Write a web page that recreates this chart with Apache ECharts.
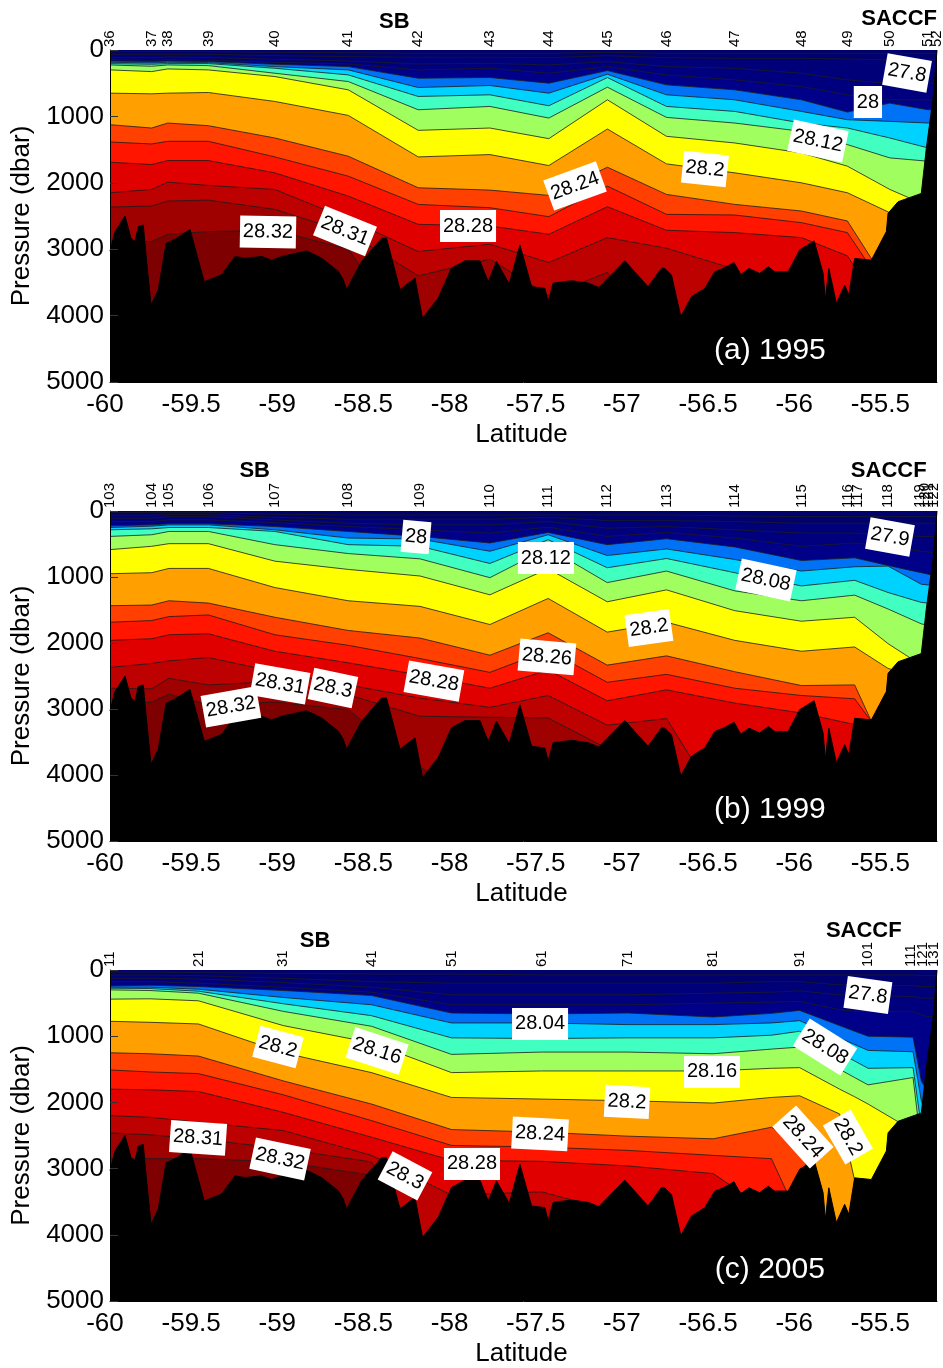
<!DOCTYPE html>
<html>
<head>
<meta charset="utf-8">
<style>
  html, body { margin: 0; padding: 0; background: #fff; }
  #main { width: 943px; height: 1368px; }
</style>
<script src="https://cdn.jsdelivr.net/npm/echarts@6/dist/echarts.min.js"></script>
</head>
<body>
<div id="main"></div>
<script>
// axis ticks
const xTicks = [-60, -59.5, -59, -58.5, -58, -57.5, -57, -56.5, -56, -55.5]
const yTicks = [0, 1000, 2000, 3000, 4000, 5000]

// bottom profile, same for the three sections
const bottomLat = [-60, -59.971, -59.913, -59.878, -59.855, -59.836, -59.807, -59.793, -59.762, -59.72, -59.675, -59.613, -59.536, -59.453, -59.352, -59.275, -59.217, -59.12, -59.062, -59.004, -58.859, -58.772, -58.675, -58.646, -58.627, -58.54, -58.424, -58.395, -58.317, -58.23, -58.186, -58.095, -58.018, -57.94, -57.853, -57.805, -57.757, -57.683, -57.621, -57.553, -57.476, -57.457, -57.428, -57.321, -57.225, -57.163, -57.012, -56.877, -56.799, -56.78, -56.741, -56.687, -56.625, -56.548, -56.49, -56.441, -56.378, -56.339, -56.291, -56.229, -56.18, -56.142, -56.064, -55.997, -55.913, -55.861, -55.848, -55.828, -55.784, -55.736, -55.712, -55.678, -55.581, -55.494, -55.484, -55.426, -55.291, -55.262, -55.223, -55.2]
const bottomP = [3030, 2735, 2500, 2835, 2885, 2660, 2635, 3035, 3840, 3615, 2915, 2835, 2700, 3490, 3385, 3110, 3135, 3110, 3165, 3110, 3025, 3135, 3335, 3460, 3610, 3185, 2835, 2835, 3610, 3435, 4040, 3735, 3285, 3175, 3175, 3490, 3185, 3525, 2935, 3565, 3590, 3790, 3510, 3475, 3510, 3575, 3175, 3565, 3285, 3290, 3390, 4015, 3715, 3590, 3340, 3290, 3200, 3380, 3290, 3365, 3265, 3340, 3340, 3010, 2875, 3365, 3765, 3290, 3815, 3540, 3690, 3140, 3165, 2735, 2460, 2285, 2160, 1480, 730, 0]

// fill below each isopycnal, top to bottom
const layerColors = ['#00006f', '#000078', '#00007f', '#000088', '#0072f5', '#00d2ff', '#40ffc0', '#a0ff5f', '#ffff00', '#ff9f00', '#ff4000', '#ff1500', '#e00000', '#bd0000', '#9f0000', '#7f0000']

// (a) 1995
const aLat = [-60, -59.758, -59.665, -59.429, -59.043, -58.617, -58.211, -57.795, -57.453, -57.113, -56.77, -56.374, -55.987, -55.72, -55.474, -55.252, -55.202]
const aContours = [
  [25, 25, 25, 25, 35, 40, 50, 50, 50, 35, 50, 50, 50, 50, 50, 50, 50],
  [65, 65, 65, 65, 85, 100, 110, 110, 115, 85, 115, 125, 125, 135, 150, 150, 150],
  [115, 115, 105, 115, 140, 165, 210, 200, 225, 175, 250, 275, 350, 450, 500, 500, 500],
  [145, 155, 145, 155, 185, 210, 300, 275, 350, 250, 375, 450, 550, 675, 750, 750, 750],
  [165, 175, 165, 175, 215, 250, 425, 415, 500, 310, 525, 600, 750, 935, 800, 900, 900],
  [185, 195, 185, 190, 250, 300, 565, 535, 650, 365, 675, 750, 925, 1050, 1075, 1100, 1100],
  [205, 215, 205, 205, 275, 375, 700, 675, 840, 415, 850, 925, 1100, 1175, 1325, 1475, 1475],
  [225, 245, 225, 235, 350, 475, 900, 850, 1025, 560, 1015, 1100, 1225, 1425, 1625, 1675, 1675],
  [300, 325, 285, 300, 400, 600, 1210, 1175, 1335, 750, 1300, 1400, 1550, 1750, 2100, 2350, 2350],
  [650, 660, 650, 640, 775, 985, 1610, 1575, 1740, 1190, 1715, 1850, 2000, 2150, 2450, 2625, 2625],
  [1125, 1175, 1100, 1140, 1325, 1600, 2075, 2110, 2190, 1765, 2175, 2325, 2425, 2575, 3575, 3625, 3625],
  [1385, 1415, 1375, 1375, 1610, 1900, 2325, 2375, 2510, 2050, 2475, 2485, 2600, 2750, 3700, 3700, 3700],
  [1690, 1725, 1665, 1665, 1850, 2200, 2625, 2650, 2775, 2360, 2715, 2750, 2825, 3100, 4100, 4100, 4100],
  [2150, 2100, 1990, 2040, 2100, 2550, 3035, 2925, 3200, 2825, 2985, 3300, 4500, 4600, 4600, 4600, 4600],
  [2365, 2350, 2275, 2260, 2400, 2750, 3400, 3150, 3700, 3350, 4500, 4600, 4700, 4700, 4700, 4700, 4700],
  [2875, 2885, 2775, 2735, 2715, 3000, 4500, 4700, 4800, 4800, 4800, 4800, 4800, 4800, 4800, 4800, 4800]
]
const aStations = ['36', '37', '38', '39', '40', '41', '42', '43', '44', '45', '46', '47', '48', '49', '50', '51', '52']
const aStationLat = aLat
const aLabels = ['27.8', '28', '28.12', '28.2', '28.24', '28.28', '28.32', '28.31']
const aLabelLat = [-55.374, -55.601, -55.891, -56.547, -57.301, -57.922, -59.083, -58.636]
const aLabelP = [346, 783, 1370, 1792, 2048, 2651, 2741, 2726]
const aLabelRot = [-10, 0, -12, -6, 20, 0, -1, -22]
const aFronts = ['SB', 'SACCF']
const aFrontLat = [-58.35, -55.42]

// (b) 1999
const bLat = [-60, -59.758, -59.658, -59.429, -59.043, -58.617, -58.201, -57.795, -57.457, -57.114, -56.77, -56.374, -55.987, -55.678, -55.484, -55.291, -55.202]
const bContours = [
  [25, 25, 25, 25, 50, 60, 60, 60, 60, 60, 60, 75, 85, 85, 85, 85, 85],
  [65, 65, 55, 55, 95, 125, 125, 125, 95, 145, 145, 160, 185, 185, 185, 185, 185],
  [110, 110, 85, 85, 135, 185, 210, 210, 160, 260, 235, 285, 335, 335, 360, 385, 385],
  [160, 160, 135, 135, 175, 235, 285, 335, 245, 385, 325, 410, 535, 485, 535, 610, 635],
  [225, 210, 195, 195, 235, 310, 385, 485, 325, 510, 420, 545, 750, 710, 825, 935, 985],
  [250, 230, 210, 210, 285, 410, 425, 610, 360, 675, 575, 735, 910, 845, 835, 1110, 1135],
  [285, 270, 250, 250, 310, 510, 535, 795, 435, 860, 720, 935, 1135, 1050, 1235, 1385, 1410],
  [385, 360, 310, 310, 510, 645, 725, 1010, 560, 1085, 910, 1210, 1360, 1275, 1485, 1710, 1760],
  [585, 535, 495, 495, 760, 885, 985, 1270, 875, 1375, 1195, 1510, 1670, 1610, 2010, 2335, 2335],
  [950, 935, 870, 870, 1160, 1360, 1445, 1720, 1325, 1835, 1685, 1960, 2125, 2060, 2385, 2535, 2535],
  [1435, 1425, 1360, 1395, 1610, 1810, 1925, 2185, 1845, 2335, 2195, 2435, 2645, 2635, 3735, 3800, 3800],
  [1685, 1660, 1600, 1575, 1875, 2035, 2235, 2445, 2110, 2595, 2475, 2685, 2795, 2845, 3535, 3600, 3600],
  [1960, 1935, 1875, 1860, 2125, 2300, 2485, 2685, 2410, 2875, 2710, 2910, 3060, 3235, 4000, 4000, 4000],
  [2370, 2310, 2270, 2220, 2435, 2635, 2835, 2975, 2795, 3245, 3145, 4800, 4800, 4800, 4800, 4800, 4800],
  [2685, 2695, 2535, 2635, 2585, 2785, 3110, 3125, 3135, 3600, 4600, 4800, 4800, 4800, 4800, 4800, 4800],
  [2935, 2895, 2775, 2935, 2895, 3010, 3875, 4600, 4800, 4800, 4800, 4800, 4800, 4800, 4800, 4800, 4800]
]
const bStations = ['103', '104', '105', '106', '107', '108', '109', '110', '111', '112', '113', '114', '115', '116', '117', '118', '119', '120', '121', '122']
const bStationLat = [-60, -59.758, -59.658, -59.429, -59.043, -58.617, -58.201, -57.795, -57.457, -57.114, -56.77, -56.374, -55.987, -55.72, -55.66, -55.484, -55.3, -55.27, -55.25, -55.22]
const bLabels = ['28', '28.12', '27.9', '28.08', '28.2', '28.26', '28.28', '28.3', '28.32', '28.31']
const bLabelLat = [-58.224, -57.47, -55.473, -56.193, -56.872, -57.464, -58.12, -58.706, -59.298, -59.013]
const bLabelP = [394, 712, 394, 1045, 1773, 2212, 2576, 2682, 2969, 2621]
const bLabelRot = [-5, 0, -10, -12, 8, -5, -10, -12, 10, -10]
const bFronts = ['SB', 'SACCF']
const bFrontLat = [-59.16, -55.48]

// (c) 2005
const cLat = [-60, -59.768, -59.487, -58.994, -58.482, -58.018, -57.496, -56.993, -56.499, -56.161, -55.997, -55.765, -55.678, -55.6, -55.339, -55.291, -55.262, -55.202]
const cContours = [
  [30, 30, 40, 50, 60, 60, 75, 75, 75, 75, 75, 75, 75, 75, 75, 85, 85, 85],
  [75, 75, 85, 125, 175, 200, 200, 200, 200, 175, 175, 225, 225, 235, 235, 250, 250, 250],
  [125, 125, 135, 190, 260, 375, 375, 375, 350, 335, 315, 375, 375, 385, 400, 425, 425, 425],
  [175, 175, 200, 260, 335, 525, 525, 525, 500, 485, 475, 600, 625, 625, 625, 675, 700, 700],
  [240, 230, 250, 310, 385, 650, 665, 650, 710, 655, 610, 840, 925, 1000, 1015, 1675, 1800, 1800],
  [260, 260, 290, 415, 525, 800, 800, 825, 825, 800, 765, 1030, 1125, 1215, 1235, 1975, 2200, 2200],
  [275, 280, 320, 510, 690, 1025, 1035, 1025, 1025, 985, 925, 1250, 1375, 1485, 1475, 2375, 2500, 2500],
  [300, 310, 350, 625, 850, 1275, 1240, 1240, 1265, 1195, 1165, 1500, 1625, 1735, 1625, 2675, 2800, 2800],
  [440, 435, 465, 840, 1100, 1550, 1525, 1525, 1525, 1485, 1475, 1800, 1915, 2025, 2425, 3675, 3800, 3800],
  [775, 790, 815, 1250, 1550, 1925, 1950, 1975, 2010, 1925, 1900, 2175, 3175, 3925, 4700, 4700, 4700, 4700],
  [1250, 1265, 1300, 1675, 2025, 2410, 2450, 2510, 2550, 2375, 2625, 4675, 4800, 4800, 4800, 4800, 4800, 4800],
  [1510, 1540, 1565, 1885, 2275, 2650, 2675, 2725, 2800, 2850, 3775, 4800, 4800, 4800, 4800, 4800, 4800, 4800],
  [1800, 1810, 1835, 2150, 2525, 2875, 2890, 2960, 3075, 3675, 4800, 4800, 4800, 4800, 4800, 4800, 4800, 4800],
  [2200, 2225, 2300, 2425, 2800, 3400, 3350, 3700, 4900, 4900, 4900, 4900, 4900, 4900, 4900, 4900, 4900, 4900],
  [2460, 2490, 2550, 2700, 2900, 4800, 4900, 4900, 4900, 4900, 4900, 4900, 4900, 4900, 4900, 4900, 4900, 4900],
  [2850, 2850, 2850, 2900, 3100, 4900, 4900, 4900, 4900, 4900, 4900, 4900, 4900, 4900, 4900, 4900, 4900, 4900]
]
const cStations = ['11', '21', '31', '41', '51', '61', '71', '81', '91', '101', '111', '121', '131']
const cStationLat = [-60, -59.487, -58.994, -58.482, -58.018, -57.496, -56.993, -56.499, -55.997, -55.6, -55.35, -55.28, -55.22]
const cLabels = ['27.8', '28.04', '28.08', '28.16', '28.16', '28.2', '28.2', '28.24', '28.28', '28.3', '28.31', '28.32', '28.24', '28.2']
const cLabelLat = [-55.601, -57.504, -55.85, -56.506, -58.45, -59.025, -56.999, -57.504, -57.899, -58.288, -59.489, -59.013, -55.978, -55.717]
const cLabelP = [378, 815, 1163, 1540, 1223, 1163, 1993, 2476, 2929, 3111, 2537, 2854, 2522, 2522]
const cLabelRot = [-8, 0, -32, 0, -18, -15, -3, -3, 0, -28, -4, -12, -48, -60]
const cFronts = ['SB', 'SACCF']
const cFrontLat = [-58.81, -55.625]

const font = 'Liberation Sans'

// invisible anchor for a text label
const textSeries = (i, label, data, clip) => ({
  type: 'scatter',
  xAxisIndex: i,
  yAxisIndex: i,
  z: 40,
  silent: true,
  clip: clip,
  symbolSize: 1,
  itemStyle: { color: 'transparent', opacity: 1 },
  label: { show: true, position: 'inside', fontFamily: font, ...label },
  data: data
})

// one panel: contour fills, bottom, labels
const panelSeries = (i, p) => {
  const list = []
  p.contours.forEach((row, k) => {
    list.push({
      type: 'line',
      xAxisIndex: i,
      yAxisIndex: i,
      z: 3 + k,
      data: row.map((v, j) => [p.lat[j], v]),
      showSymbol: false,
      silent: true,
      lineStyle: { color: '#1c1c1c', width: 1, opacity: 0.8 },
      areaStyle: { color: layerColors[k], opacity: 1, origin: 'end' }
    })
  })
  list.push({
    type: 'line',
    xAxisIndex: i,
    yAxisIndex: i,
    z: 30,
    data: bottomLat.map((v, j) => [v, bottomP[j]]),
    showSymbol: false,
    silent: true,
    lineStyle: { color: '#000', width: 1 },
    areaStyle: { color: '#000', opacity: 1, origin: 'end' }
  })
  // white contour labels
  list.push(textSeries(i, { color: '#000', fontSize: 20, backgroundColor: '#fff', padding: [7, 3, 5, 3] },
    p.labels.map((t, j) => ({
      value: [p.labelLat[j], p.labelP[j]],
      label: { formatter: t, rotate: p.labelRot[j] }
    })), true))
  // station numbers along the top
  list.push(textSeries(i, { color: '#000', fontSize: 15, align: 'left', verticalAlign: 'middle', rotate: 90 },
    p.stations.map((t, j) => ({
      value: [p.stationLat[j], -45],
      label: { formatter: t }
    })), false))
  // front names
  list.push(textSeries(i, { color: '#000', fontSize: 22, fontWeight: 'bold' },
    p.fronts.map((t, j) => ({
      value: [p.frontLat[j], p.frontP[j]],
      label: { formatter: t }
    })), false))
  // panel tag
  list.push(textSeries(i, { color: '#fff', fontSize: 30 },
    [{ value: [-56.17, 4530], label: { formatter: p.tag } }], true))
  return list
}

const panels = [
  { top: 50, height: 332, tag: '(a) 1995', lat: aLat, contours: aContours, stations: aStations, stationLat: aStationLat,
    labels: aLabels, labelLat: aLabelLat, labelP: aLabelP, labelRot: aLabelRot, fronts: aFronts, frontLat: aFrontLat, frontP: [-430, -465] },
  { top: 511, height: 330, tag: '(b) 1999', lat: bLat, contours: bContours, stations: bStations, stationLat: bStationLat,
    labels: bLabels, labelLat: bLabelLat, labelP: bLabelP, labelRot: bLabelRot, fronts: bFronts, frontLat: bFrontLat, frontP: [-600, -600] },
  { top: 970, height: 331, tag: '(c) 2005', lat: cLat, contours: cContours, stations: cStations, stationLat: cStationLat,
    labels: cLabels, labelLat: cLabelLat, labelP: cLabelP, labelRot: cLabelRot, fronts: cFronts, frontLat: cFrontLat, frontP: [-440, -590] }
]

const chart = echarts.init(document.getElementById('main'))
chart.setOption({
  animation: false,
  grid: panels.map(p => ({
    left: 110,
    width: 827,
    top: p.top,
    height: p.height,
    outerBoundsMode: 'none',
    show: true,
    backgroundColor: layerColors[0],
    borderWidth: 0
  })),
  xAxis: panels.map((p, i) => ({
    type: 'value',
    gridIndex: i,
    position: 'bottom',
    min: -60,
    max: -55.2,
    name: 'Latitude',
    nameLocation: 'middle',
    nameGap: 40,
    nameTextStyle: { fontFamily: font, fontSize: 26, color: '#000', padding: [0, 4, 0, 0] },
    axisLine: { show: true, onZero: false, lineStyle: { color: '#000' } },
    axisTick: { show: false, customValues: xTicks },
    axisLabel: {
      customValues: xTicks,
      formatter: v => String(v),
      fontFamily: font,
      fontSize: 26,
      color: '#000',
      margin: 10,
      padding: [0, 10, 0, 0]
    },
    splitLine: { show: false }
  })),
  yAxis: panels.map((p, i) => ({
    type: 'value',
    gridIndex: i,
    inverse: true,
    min: 0,
    max: 5000,
    z: 35,
    name: 'Pressure (dbar)',
    nameLocation: 'middle',
    nameGap: 72,
    nameTextStyle: { fontFamily: font, fontSize: 26, color: '#000' },
    axisLine: { show: true, lineStyle: { color: '#000' } },
    axisTick: { show: true, inside: true, length: 8, customValues: yTicks, lineStyle: { color: '#333' } },
    axisLabel: {
      customValues: yTicks,
      formatter: v => String(v),
      fontFamily: font,
      fontSize: 26,
      color: '#000',
      margin: 6,
      padding: [3, 0, 0, 0]
    },
    splitLine: { show: false }
  })),
  series: panels.flatMap((p, i) => panelSeries(i, p))
})
</script>
</body>
</html>
